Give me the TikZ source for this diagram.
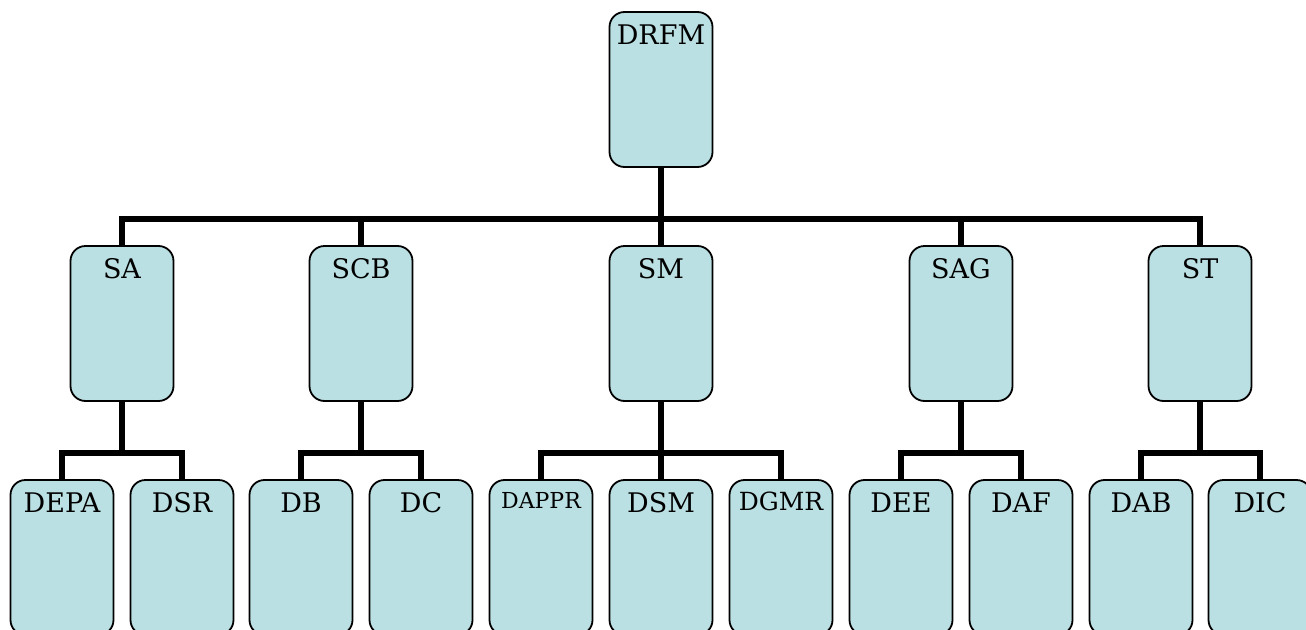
\documentclass[tikz,border=0pt]{standalone}
\usepackage{fontspec}
\setmainfont{DejaVu Serif}
\definecolor{boxfill}{RGB}{187,224,227}
\tikzset{
  orgbox/.style={draw=black, line width=1.8pt, fill=boxfill, rounded corners=15pt,
    minimum width=103pt, minimum height=155pt, inner sep=0pt},
  toptext/.style={anchor=base, inner sep=0pt, yshift=-33pt, font=\fontsize{27}{27}\selectfont},
  midtext/.style={anchor=base, inner sep=0pt, yshift=-31pt, font=\fontsize{25}{25}\selectfont},
  smalltext/.style={anchor=base, inner sep=0pt, yshift=-29pt, font=\fontsize{22}{22}\selectfont},
  conn/.style={line width=6.5pt, draw=black},
}
\begin{document}
\begin{tikzpicture}[x=1pt, y=-1pt]
\clip (0,0) rectangle (1306,629);
\fill[white] (0,0) rectangle (1306,629);

% root
\node[orgbox, label={[toptext]north:DRFM}] (drfm) at (661,89.5) {};

% second level
\node[orgbox, label={[toptext]north:SA}]  (sa)  at (122,323.5) {};
\node[orgbox, label={[toptext]north:SCB}] (scb) at (361,323.5) {};
\node[orgbox, label={[toptext]north:SM}]  (sm)  at (661,323.5) {};
\node[orgbox, label={[toptext]north:SAG}] (sag) at (961,323.5) {};
\node[orgbox, label={[toptext]north:ST}]  (st)  at (1200,323.5) {};

% third level
\node[orgbox, label={[toptext]north:DEPA}]  (depa)  at (62,557.5) {};
\node[orgbox, label={[toptext]north:DSR}]   (dsr)   at (182,557.5) {};
\node[orgbox, label={[toptext]north:DB}]    (db)    at (301,557.5) {};
\node[orgbox, label={[toptext]north:DC}]    (dc)    at (421,557.5) {};
\node[orgbox, label={[smalltext]north:DAPPR}] (dappr) at (541,557.5) {};
\node[orgbox, label={[toptext]north:DSM}]   (dsm)   at (661,557.5) {};
\node[orgbox, label={[midtext]north:DGMR}]  (dgmr)  at (781,557.5) {};
\node[orgbox, label={[toptext]north:DEE}]   (dee)   at (901,557.5) {};
\node[orgbox, label={[toptext]north:DAF}]   (daf)   at (1021,557.5) {};
\node[orgbox, label={[toptext]north:DAB}]   (dab)   at (1141,557.5) {};
\node[orgbox, label={[toptext]north:DIC}]   (dic)   at (1260,557.5) {};

% connectors
\foreach \c in {sa,scb,sm,sag,st}
  \draw[conn] (drfm.south) -- ++(0,51) -| (\c.north);
\foreach \c in {depa,dsr}
  \draw[conn] (sa.south) -- ++(0,51) -| (\c.north);
\foreach \c in {db,dc}
  \draw[conn] (scb.south) -- ++(0,51) -| (\c.north);
\foreach \c in {dappr,dsm,dgmr}
  \draw[conn] (sm.south) -- ++(0,51) -| (\c.north);
\foreach \c in {dee,daf}
  \draw[conn] (sag.south) -- ++(0,51) -| (\c.north);
\foreach \c in {dab,dic}
  \draw[conn] (st.south) -- ++(0,51) -| (\c.north);
\end{tikzpicture}
\end{document}
